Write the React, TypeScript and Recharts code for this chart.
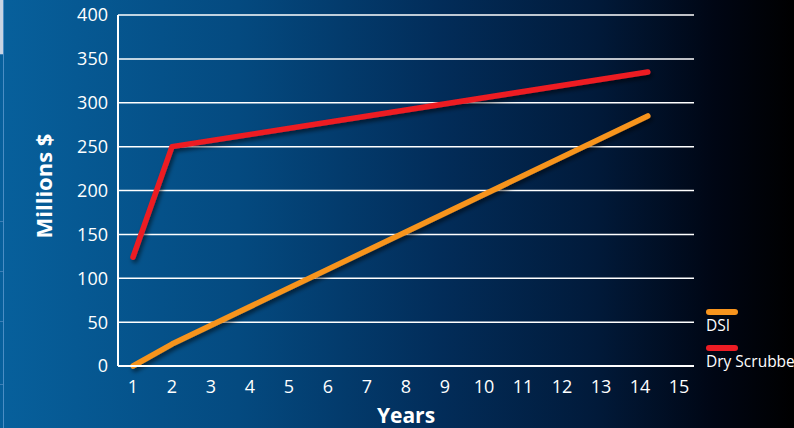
import React from "react";
import {
  CartesianGrid,
  Legend,
  Line,
  LineChart,
  XAxis,
  YAxis,
} from "recharts";

// values
const years = [1, 2, 14.2];
const dsi = [0, 25, 285];
const dryScrubber = [124, 250, 335];
const xTicks = [1, 2, 3, 4, 5, 6, 7, 8, 9, 10, 11, 12, 13, 14, 15];
const yTicks = [0, 50, 100, 150, 200, 250, 300, 350, 400];

const data = years.map((year, i) => ({
  year,
  dsi: dsi[i],
  dry: dryScrubber[i],
}));

const FONT = "'Open Sans', 'Noto Sans', sans-serif";
const WHITE = "#ffffff";

function LegendBox({ payload }: { payload?: any[] }) {
  return (
    <div style={{ fontFamily: FONT, color: WHITE, textAlign: "left" }}>
      {(payload ?? []).map((p) => (
        <div key={p.value} style={{ marginBottom: 9 }}>
          <div
            style={{
              width: 32,
              height: 6,
              borderRadius: 3,
              background: p.color,
            }}
          />
          <div style={{ fontSize: 15.5, lineHeight: "21px", whiteSpace: "nowrap" }}>
            {p.value}
          </div>
        </div>
      ))}
    </div>
  );
}

export default function App() {
  return (
    <div
      style={{
        position: "fixed",
        left: 0,
        top: 0,
        width: 794,
        height: 428,
        overflow: "hidden",
        background:
          "linear-gradient(to right, #07609c 0%, #044a80 30%, #022d5a 55%, #011a3a 75%, #000614 90%, #000000 100%)",
      }}
    >
      {/* shadow under the series lines */}
      <svg width={0} height={0} style={{ position: "absolute" }}>
        <defs>
          <filter id="lineShadow" x="-10%" y="-10%" width="130%" height="130%">
            <feDropShadow dx="2" dy="3" stdDeviation="2" floodColor="#000" floodOpacity="0.55" />
          </filter>
        </defs>
      </svg>

      {/* cropped page edge on the far left */}
      <div style={{ position: "absolute", left: 0, top: 0, width: 3, height: 54, background: "#c9d4e3" }} />
      <div style={{ position: "absolute", left: 3, top: 0, width: 1, height: 428, background: "#4b8dc4" }} />
      {[54, 221, 271, 321, 384].map((y) => (
        <div key={y} style={{ position: "absolute", left: 0, top: y, width: 3, height: 1, background: "#3d7fb6" }} />
      ))}

      <LineChart
        width={794}
        height={428}
        data={data}
        margin={{ top: 15, right: 100, bottom: 32, left: 58 }}
      >
        <CartesianGrid
          yAxisId="l"
          vertical={false}
          stroke={WHITE}
          strokeWidth={1.5}
          strokeOpacity={1}
        />
        <XAxis
          dataKey="year"
          type="number"
          domain={[1, 15]}
          ticks={xTicks}
          padding={{ left: 15, right: 15 }}
          height={30}
          tickLine={false}
          tickSize={0}
          tickMargin={14}
          axisLine={{ stroke: WHITE, strokeWidth: 2 }}
          tick={{ fill: WHITE, fontSize: 18, fontFamily: FONT }}
          label={{
            value: "Years",
            position: "insideBottom",
            offset: -27,
            fill: WHITE,
            fontSize: 21,
            fontWeight: 700,
            fontFamily: FONT,
          }}
        />
        <YAxis
          yAxisId="l"
          domain={[0, 400]}
          ticks={yTicks}
          width={60}
          tickLine={false}
          tickSize={0}
          tickMargin={10}
          axisLine={{ stroke: WHITE, strokeWidth: 2 }}
          tick={{ fill: WHITE, fontSize: 18, fontFamily: FONT }}
          label={{
            value: "Millions $",
            angle: -90,
            position: "insideLeft",
            offset: -14,
            dy: 48,
            fill: WHITE,
            fontSize: 22,
            fontWeight: 700,
            fontFamily: FONT,
          }}
        />
        <YAxis
          yAxisId="r"
          orientation="right"
          domain={[0, 400]}
          width={0}
          tick={false}
          tickLine={false}
          axisLine={{ stroke: WHITE, strokeWidth: 2 }}
        />
        <Legend
          layout="vertical"
          align="center"
          verticalAlign="middle"
          content={<LegendBox />}
          wrapperStyle={{ position: "absolute", left: 706, top: 309, width: 100 }}
        />
        <Line
          yAxisId="l"
          type="linear"
          dataKey="dsi"
          name="DSI"
          stroke="#f7941d"
          strokeWidth={5.5}
          strokeLinecap="round"
          strokeLinejoin="round"
          dot={false}
          filter="url(#lineShadow)"
          isAnimationActive={false}
        />
        <Line
          yAxisId="l"
          type="linear"
          dataKey="dry"
          name="Dry Scrubber"
          stroke="#ed1c24"
          strokeWidth={5.5}
          strokeLinecap="round"
          strokeLinejoin="round"
          dot={false}
          filter="url(#lineShadow)"
          isAnimationActive={false}
        />
      </LineChart>
    </div>
  );
}
